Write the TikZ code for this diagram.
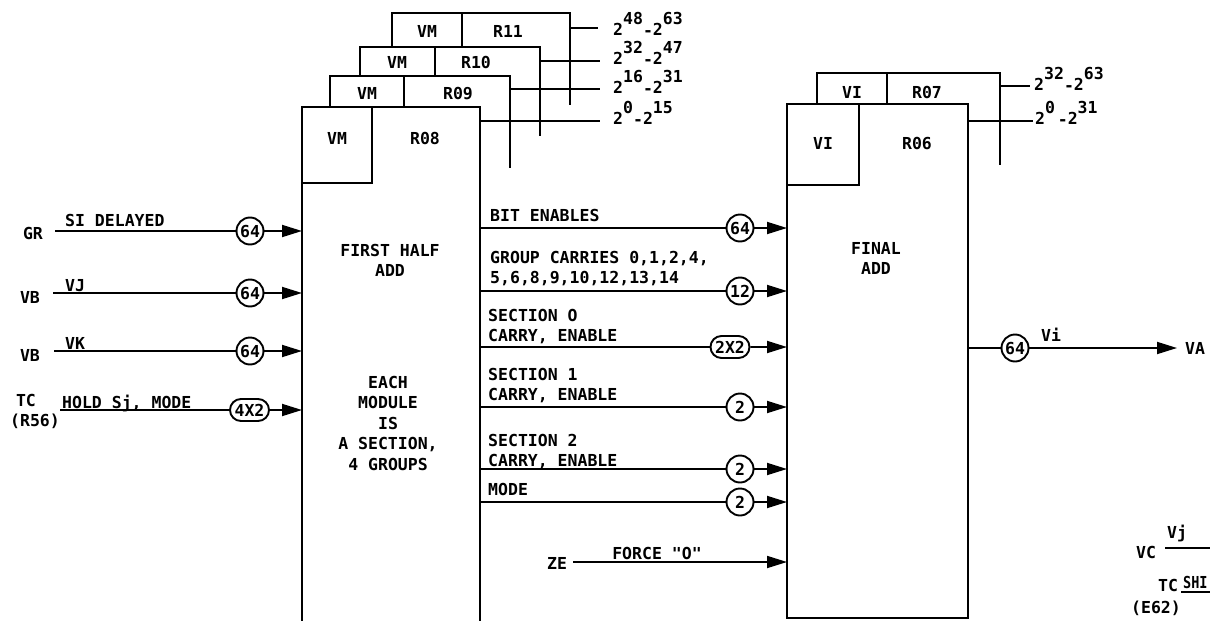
\documentclass[tikz,border=0pt]{standalone}
\usepackage{fontspec}
\newfontfamily\lt{DejaVu Sans Mono}
\usetikzlibrary{arrows.meta,shapes.misc}
\newcommand{\pw}[3]{2\raisebox{0.66em}{#1}#3\raisebox{-0.08em}{-}2\raisebox{0.66em}{#2}}
\begin{document}
\begin{tikzpicture}[x=1pt,y=-1pt,
  txt/.style={font=\lt\bfseries\fontsize{16.5}{20.5}\selectfont, inner sep=0pt},
  t1/.style={txt, text height=12pt, text depth=0pt},
  box/.style={line width=2.8pt},
  ln/.style={line width=1.8pt},
  arr/.style={ln, -{Triangle[length=20pt,width=12pt]}},
  num/.style={t1, circle, draw, line width=1.9pt, fill=white, minimum size=27pt},
  oval/.style={t1, rounded rectangle, draw, line width=1.9pt, fill=white, minimum height=22pt, minimum width=45pt, inner xsep=3pt},
]
\useasboundingbox (0,0) rectangle (1210,621);

% ---------- register stack R08..R11 ----------
\coordinate (L) at (302,107);
\coordinate (R) at (480,107);
\draw[box] (392,47) -- (392,13) -- (570,13) -- (570,105);
\draw[box] (462,13) -- (462,47);
\draw[box] (360,76) -- (360,47) -- (540,47) -- (540,136);
\draw[box] (435,47) -- (435,76);
\draw[box] (330,107) -- (330,76) -- (510,76) -- (510,168);
\draw[box] (404,76) -- (404,107);
\draw[box] (302,640) -- (L) -- (R) -- (480,640);
\draw[box] (302,183) -- (372,183) -- (372,107);

\node[t1] (vm11) at (427,31) {VM};
\node[t1] (r11) at (508,31) {R11};
\node[t1] (vm10) at (397,62) {VM};
\node[t1] (r10) at (476,62) {R10};
\node[t1] (vm9) at (367,93) {VM};
\node[t1] (r09) at (458,93) {R09};
\node[t1] (vm8) at (337,138) {VM};
\node[t1] (r08) at (425,138) {R08};

% bit-range labels
\node[txt, anchor=base west] (b11) at (613,35) {\pw{48}{63}{}};
\node[txt, anchor=base west] (b10) at (613,64) {\pw{32}{47}{}};
\node[txt, anchor=base west] (b09) at (613,93) {\pw{16}{31}{}};
\node[txt, anchor=base west] (b08) at (613,124) {\pw{0}{15}{}};
\coordinate (e11) at (598,28);
\coordinate (e10) at (600,61);
\coordinate (e09) at (600,89);
\coordinate (e08) at (600,121);
\draw[ln] (570,28) -- (e11);
\draw[ln] (540,61) -- (e10);
\draw[ln] (510,89) -- (e09);
\draw[ln] (480,121) -- (e08);

% ---------- register stack R06/R07 ----------
\coordinate (F) at (787,104);
\coordinate (G) at (968,104);
\draw[box] (817,104) -- (817,73) -- (1000,73) -- (1000,165);
\draw[box] (887,73) -- (887,104);
\draw[box] (F) rectangle (968,618);
\draw[box] (787,185) -- (859,185) -- (859,104);
\node[t1] (vi7) at (852,92) {VI};
\node[t1] (r07) at (927,92) {R07};
\node[t1] (vi6) at (823,143) {VI};
\node[t1] (r06) at (917,143) {R06};
\node[txt, anchor=base west] (b07) at (1034,90) {\pw{32}{63}{}};
\node[txt, anchor=base west] (b06) at (1035,124) {\pw{0}{31}{\,}};
\coordinate (e07) at (1030,86);
\coordinate (e06) at (1033,121);
\draw[ln] (1000,86) -- (e07);
\draw[ln] (968,121) -- (e06);

% ---------- block texts ----------
\node[txt, align=center, anchor=north] (fha) at (390,244) {FIRST HALF\\ADD};
\node[txt, align=center, anchor=north] (each) at (388,376) {EACH\\MODULE\\IS\\A SECTION,\\4 GROUPS};
\node[txt, align=center, anchor=north] (fin) at (876,242) {FINAL\\ADD};

% ---------- inputs ----------
\node[t1] (GR) at (33,233) {GR};
\node[t1, anchor=west] (sid) at (65,220) {SI DELAYED};
\node[num] (c1) at (250,231) {64};
\draw[ln] ([xshift=12pt]GR.east |- c1) -- (c1);
\draw[arr] (c1) -- (c1 -| L);

\node[t1] (VB1) at (30,297) {VB};
\node[t1, anchor=west] (VJ) at (65,285) {VJ};
\node[num] (c2) at (250,293) {64};
\draw[ln] ([xshift=13pt]VB1.east |- c2) -- (c2);
\draw[arr] (c2) -- (c2 -| L);

\node[t1] (VB2) at (30,355) {VB};
\node[t1, anchor=west] (VK) at (65,343) {VK};
\node[num] (c3) at (250,351) {64};
\draw[ln] ([xshift=14pt]VB2.east |- c3) -- (c3);
\draw[arr] (c3) -- (c3 -| L);

\node[t1] (TC1) at (26,400) {TC};
\node[t1] (r56) at (35,420) {(R56)};
\node[t1, anchor=west] (hold) at (62,402) {HOLD Sj, MODE};
\node[oval] (c4) at (249.5,410) {4X2};
\draw[ln] (r56.east |- c4) -- (c4);
\draw[arr] (c4) -- (c4 -| L);

% ---------- between blocks ----------
\node[t1, anchor=west] (be) at (490,215) {BIT ENABLES};
\node[num] (m1) at (740,228) {64};
\draw[ln] (m1 -| R) -- (m1);
\draw[arr] (m1) -- (m1 -| F);

\node[txt, align=left, anchor=north west] (gc) at (490,251) {GROUP CARRIES 0,1,2,4,\\5,6,8,9,10,12,13,14};
\node[num] (m2) at (740,291) {12};
\draw[ln] (m2 -| R) -- (m2);
\draw[arr] (m2) -- (m2 -| F);

\node[txt, align=left, anchor=north west] (s0) at (488,309) {SECTION O\\CARRY, ENABLE};
\node[oval] (m3) at (730,347) {2X2};
\draw[ln] (m3 -| R) -- (m3);
\draw[arr] (m3) -- (m3 -| F);

\node[txt, align=left, anchor=north west] (s1) at (488,368) {SECTION 1\\CARRY, ENABLE};
\node[num] (m4) at (740,407) {2};
\draw[ln] (m4 -| R) -- (m4);
\draw[arr] (m4) -- (m4 -| F);

\node[txt, align=left, anchor=north west] (s2) at (488,434) {SECTION 2\\CARRY, ENABLE};
\node[num] (m5) at (740,469) {2};
\draw[ln] (m5 -| R) -- (m5);
\draw[arr] (m5) -- (m5 -| F);

\node[t1, anchor=west] (md) at (488,489) {MODE};
\node[num] (m6) at (740,502) {2};
\draw[ln] (m6 -| R) -- (m6);
\draw[arr] (m6) -- (m6 -| F);

\node[t1] (ZE) at (557,563) {ZE};
\node[t1] (fz) at (657,553) {FORCE "O"};
\coordinate (zeend) at (787,562);
\draw[arr] ([xshift=6pt]ZE.east |- zeend) -- (zeend);

% ---------- output ----------
\node[num] (o1) at (1015,348) {64};
\node[t1, anchor=west] (VA) at (1185,348) {VA};
\node[t1] (Vi) at (1051,335) {Vi};
\draw[ln] (o1 -| G) -- (o1);
\draw[arr] (o1) -- ([xshift=-8pt]VA.west);

% ---------- partial labels at right ----------
\node[t1] (VC) at (1146,552) {VC};
\node[t1] (Vj) at (1177,532) {Vj};
\coordinate (vce) at (1212,548);
\draw[ln] ([xshift=9pt]VC.east |- vce) -- (vce);

\node[t1] (TC2) at (1168,585) {TC};
\node[t1, anchor=west, xscale=0.82] (SHI) at (1183,582) {SHI};
\node[t1] (E62) at (1156,607) {(E62)};
\coordinate (tce) at (1212,592);
\draw[ln] (E62.east |- tce) -- (tce);
\end{tikzpicture}
\end{document}
